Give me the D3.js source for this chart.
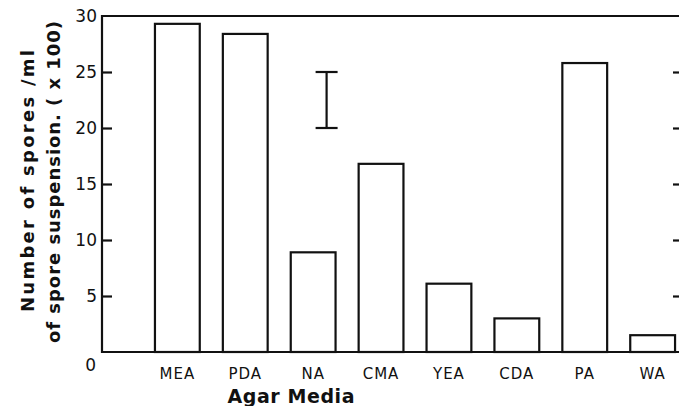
<!DOCTYPE html>
<meta charset="utf-8">
<title>Spores per agar medium</title>

<style>

html, body {
  margin: 0;
  padding: 0;
  width: 679px;
  height: 406px;
  background: #fff;
  overflow: hidden;
}

svg {
  display: block;
}

text {
  font-family: "DejaVu Sans", sans-serif;
  fill: #111;
}

.bars rect {
  fill: #fff;
  stroke: #111;
  stroke-width: 2.2;
}

.axis line {
  stroke: #111;
  stroke-width: 2.2;
}

.axis text {
  font-size: 17px;
}

.xlabels text {
  font-size: 15px;
  letter-spacing: 1px;
}

.title {
  font-weight: bold;
  font-size: 18px;
}

</style>

<body>
<svg width="679" height="406"></svg>
</body>

<script src="https://cdn.jsdelivr.net/npm/d3@7"></script>
<script>

var media = ["MEA", "PDA", "NA", "CMA", "YEA", "CDA", "PA", "WA"];
var spores = [29.3, 28.4, 8.9, 16.8, 6.1, 3.0, 25.8, 1.5];
var yTicks = [0, 5, 10, 15, 20, 25, 30];
var lsdBar = [20, 25];

var svg = d3.select("svg");

var plotLeft = 102, plotRight = 681, plotTop = 16, plotBottom = 352;

var x = d3.scaleBand()
    .domain(media)
    .range([121, 709])
    .paddingInner(0.34)
    .paddingOuter(0.5);

var y = d3.scaleLinear()
    .domain([0, 30])
    .range([plotBottom, plotTop]);

var data = media.map(function(m, i) { return {name: m, value: spores[i]}; });

// bars
svg.append("g")
    .attr("class", "bars")
  .selectAll("rect")
  .data(data)
  .enter().append("rect")
    .attr("x", function(d) { return x(d.name); })
    .attr("y", function(d) { return y(d.value); })
    .attr("width", x.bandwidth())
    .attr("height", function(d) { return plotBottom - y(d.value); });

// frame
svg.append("path")
    .attr("d", "M" + plotRight + "," + plotTop + "H" + plotLeft + "V" + plotBottom + "H" + plotRight)
    .attr("fill", "none")
    .attr("stroke", "#111")
    .attr("stroke-width", 2.2);

var yAxis = svg.append("g")
    .attr("class", "axis")
    .attr("transform", "translate(" + plotLeft + ",0)")
    .call(d3.axisLeft(y)
      .tickValues(yTicks)
      .tickSizeInner(-10)
      .tickSizeOuter(0)
      .tickPadding(5)
      .tickFormat(d3.format("d")));

yAxis.select(".domain").remove();
yAxis.selectAll(".tick line").filter(function(d) { return d === 0 || d === 30; }).remove();
yAxis.selectAll(".tick text").filter(function(d) { return d === 0; })
    .attr("dy", "1.1em")
    .attr("x", -6);

var yAxisRight = svg.append("g")
    .attr("class", "axis")
    .attr("transform", "translate(" + plotRight + ",0)")
    .call(d3.axisLeft(y)
      .tickValues(yTicks.filter(function(d) { return d > 0 && d < 30; }))
      .tickSizeInner(8)
      .tickSizeOuter(0)
      .tickFormat(""));

yAxisRight.select(".domain").remove();

// category labels
svg.append("g")
    .attr("class", "xlabels")
  .selectAll("text")
  .data(media)
  .enter().append("text")
    .attr("x", function(d) { return x(d) + x.bandwidth() / 2; })
    .attr("y", 379)
    .attr("text-anchor", "middle")
    .text(function(d) { return d; });

// LSD bar
var ex = x("NA") + x.bandwidth() * 0.8;
var lsd = svg.append("g")
    .attr("stroke", "#111")
    .attr("stroke-width", 2.2);

lsd.append("line")
    .attr("x1", ex).attr("x2", ex)
    .attr("y1", y(lsdBar[0])).attr("y2", y(lsdBar[1]));

lsd.selectAll(".cap")
  .data(lsdBar)
  .enter().append("line")
    .attr("x1", ex - 11).attr("x2", ex + 11)
    .attr("y1", function(d) { return y(d); })
    .attr("y2", function(d) { return y(d); });

// titles
svg.append("text")
    .attr("class", "title")
    .attr("transform", "translate(34,181) rotate(-90)")
    .attr("text-anchor", "middle")
    .attr("textLength", 262)
    .attr("lengthAdjust", "spacing")
    .text("Number of spores /ml");

svg.append("text")
    .attr("class", "title")
    .attr("transform", "translate(60,182) rotate(-90)")
    .attr("text-anchor", "middle")
    .attr("textLength", 322)
    .attr("lengthAdjust", "spacing")
    .text("of spore suspension. ( x 100)");

svg.append("text")
    .attr("class", "title")
    .attr("x", 291)
    .attr("y", 403)
    .attr("text-anchor", "middle")
    .attr("textLength", 127)
    .attr("lengthAdjust", "spacing")
    .style("font-size", "19px")
    .text("Agar Media");

</script>
